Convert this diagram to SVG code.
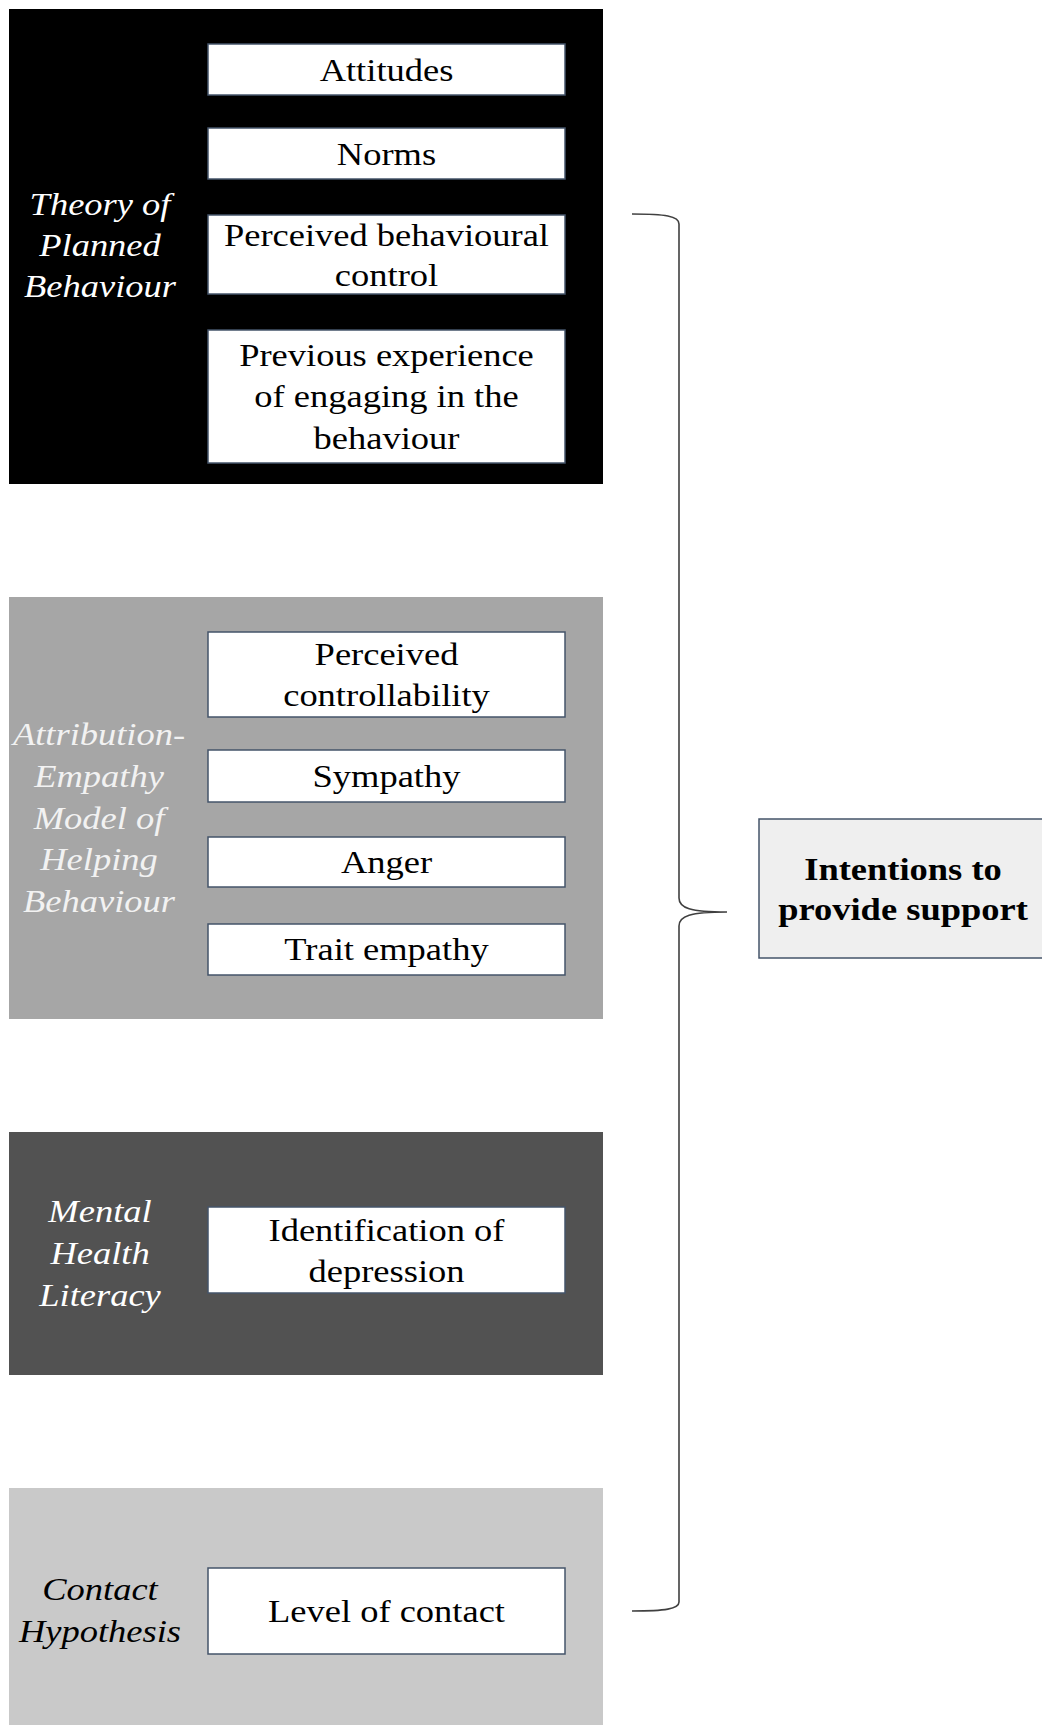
<svg xmlns="http://www.w3.org/2000/svg" width="1042" height="1725" viewBox="0 0 1042 1725">
<style>
.bg{fill:#ffffff}
.box{fill:#ffffff;stroke:#44546a;stroke-width:1.5}
.bt{font-family:"Liberation Serif","Times New Roman",serif;font-size:32px;fill:#000;text-anchor:middle}
.lb{font-family:"Liberation Serif","Times New Roman",serif;font-size:32px;font-style:italic;text-anchor:middle}
.bold{font-weight:bold}
.brace{fill:none;stroke:#404040;stroke-width:1.6}
</style>
<rect class="bg" x="0" y="0" width="1042" height="1725"/>

<g id="panel-tpb">
<rect x="9" y="9" width="594" height="475" fill="#000000"/>
<text class="lb" fill="#ffffff" transform="translate(100 0) scale(1.14 1)"><tspan x="0" y="215">Theory of</tspan><tspan x="0" y="256">Planned</tspan><tspan x="0" y="297">Behaviour</tspan></text>
</g>
<g id="attitudes">
<rect class="box" x="208" y="44" width="357" height="51"/>
<text class="bt" transform="translate(386.5 0) scale(1.14 1)" x="0" y="81">Attitudes</text>
</g>
<g id="norms">
<rect class="box" x="208" y="128" width="357" height="51"/>
<text class="bt" transform="translate(386.5 0) scale(1.14 1)" x="0" y="165">Norms</text>
</g>
<g id="pbc">
<rect class="box" x="208" y="215" width="357" height="79"/>
<text class="bt" transform="translate(386.5 0) scale(1.14 1)"><tspan x="0" y="246">Perceived behavioural</tspan><tspan x="0" y="286">control</tspan></text>
</g>
<g id="previous">
<rect class="box" x="208" y="330" width="357" height="133"/>
<text class="bt" transform="translate(386.5 0) scale(1.14 1)"><tspan x="0" y="366">Previous experience</tspan><tspan x="0" y="407">of engaging in the</tspan><tspan x="0" y="449">behaviour</tspan></text>
</g>

<g id="panel-aem">
<rect x="9" y="597" width="594" height="422" fill="#a6a6a6"/>
<text class="lb" fill="#f2f2f2" transform="translate(99 0) scale(1.14 1)"><tspan x="0" y="745">Attribution-</tspan><tspan x="0" y="787">Empathy</tspan><tspan x="0" y="829">Model of</tspan><tspan x="0" y="870">Helping</tspan><tspan x="0" y="912">Behaviour</tspan></text>
</g>
<g id="controllability">
<rect class="box" x="208" y="632" width="357" height="85"/>
<text class="bt" transform="translate(386.5 0) scale(1.14 1)"><tspan x="0" y="665">Perceived</tspan><tspan x="0" y="706">controllability</tspan></text>
</g>
<g id="sympathy">
<rect class="box" x="208" y="750" width="357" height="52"/>
<text class="bt" transform="translate(386.5 0) scale(1.14 1)" x="0" y="787">Sympathy</text>
</g>
<g id="anger">
<rect class="box" x="208" y="837" width="357" height="50"/>
<text class="bt" transform="translate(386.5 0) scale(1.14 1)" x="0" y="873">Anger</text>
</g>
<g id="trait-empathy">
<rect class="box" x="208" y="924" width="357" height="51"/>
<text class="bt" transform="translate(386.5 0) scale(1.14 1)" x="0" y="960">Trait empathy</text>
</g>

<g id="panel-mhl">
<rect x="9" y="1132" width="594" height="243" fill="#525252"/>
<text class="lb" fill="#ffffff" transform="translate(100 0) scale(1.14 1)"><tspan x="0" y="1222">Mental</tspan><tspan x="0" y="1264">Health</tspan><tspan x="0" y="1306">Literacy</tspan></text>
</g>
<g id="identification">
<rect class="box" x="208" y="1207" width="357" height="86"/>
<text class="bt" transform="translate(386.5 0) scale(1.14 1)"><tspan x="0" y="1241">Identification of</tspan><tspan x="0" y="1282">depression</tspan></text>
</g>

<g id="panel-contact">
<rect x="9" y="1488" width="594" height="237" fill="#c9c9c9"/>
<text class="lb" fill="#000000" transform="translate(100 0) scale(1.14 1)"><tspan x="0" y="1600">Contact</tspan><tspan x="0" y="1642">Hypothesis</tspan></text>
</g>
<g id="level-contact">
<rect class="box" x="208" y="1568" width="357" height="86"/>
<text class="bt" transform="translate(386.5 0) scale(1.14 1)" x="0" y="1622">Level of contact</text>
</g>

<g id="connectors">
<path class="brace" d="M632 214 C665 214 679 216 679 224 L679 898 C679 908 690 912 727 912 C690 912 679 916 679 926 L679 1602 C679 1609 665 1611 632 1611"/>
</g>

<g id="intentions">
<rect x="759" y="819" width="300" height="139" fill="#efefef" stroke="#44546a" stroke-width="1.5"/>
<text class="bt bold" transform="translate(903 0) scale(1.14 1)"><tspan x="0" y="880">Intentions to</tspan><tspan x="0" y="920">provide support</tspan></text>
</g>
</svg>
